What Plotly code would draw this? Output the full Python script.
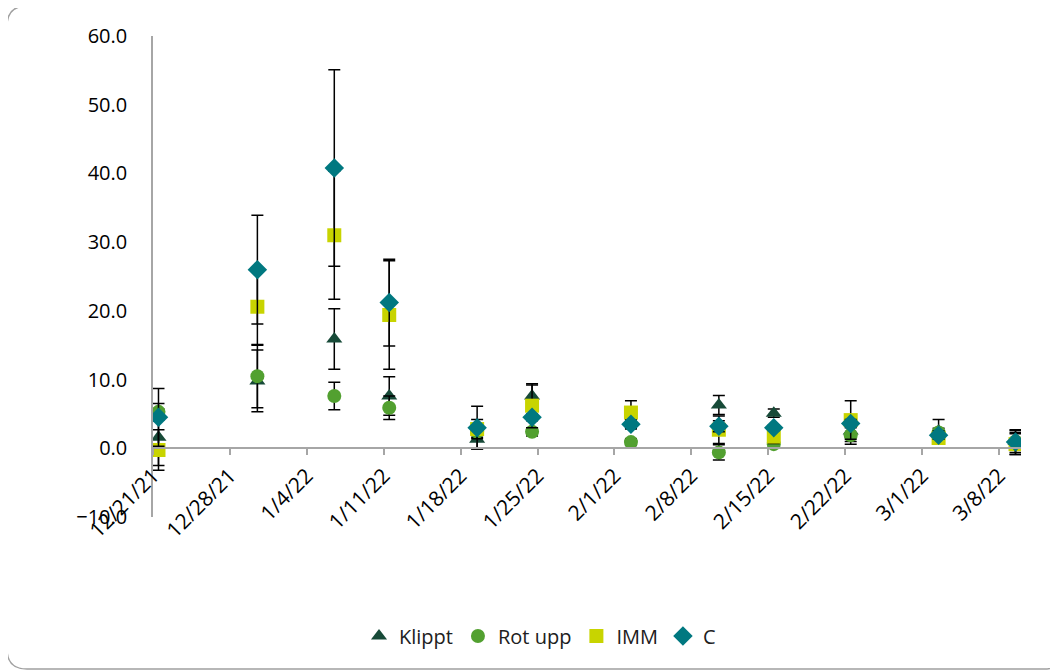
import pandas as pd
import plotly.graph_objects as go

# ---- data ----
dates = ["2021-12-21", "2021-12-30", "2022-01-06", "2022-01-11", "2022-01-19", "2022-01-24",
         "2022-02-02", "2022-02-10", "2022-02-15", "2022-02-22", "2022-03-02", "2022-03-09"]

klippt = [1.6, 9.8, 15.9, 7.6, 1.3, 7.6, 3.8, 6.3, 5.1, 2.5, 2.5, 1.0]
klippt_err = [4.1, 4.5, 4.4, 2.8, 1.4, 1.6, 1.0, 1.4, 0.6, 1.5, 1.7, 1.3]

rot_upp = [5.3, 10.5, 7.6, 5.9, 2.4, 2.4, 0.9, -0.6, 0.6, 1.9, 2.3, 1.0]
rot_upp_err = [1.2, 4.6, 2.0, 1.7, 0.8, 0.6, 0.5, 1.1, 0.4, 1.3, 0.6, 1.6]

imm = [-0.25, 20.6, 31.0, 19.4, 2.8, 6.2, 5.2, 2.7, 1.7, 4.1, 1.5, 0.6]
imm_err = [2.95, 5.6, 9.3, 7.9, 1.4, 3.2, 1.7, 2.0, 1.0, 2.8, 0.6, 1.5]

c_vals = [4.5, 26.0, 40.8, 21.2, 3.0, 4.5, 3.5, 3.2, 3.0, 3.6, 1.9, 0.9]
c_err = [4.2, 7.9, 14.3, 6.3, 3.1, 0.5, 0.6, 0.8, 0.4, 0.6, 0.6, 1.8]

tick_dates = ["2021-12-21", "2021-12-28", "2022-01-04", "2022-01-11", "2022-01-18", "2022-01-25",
              "2022-02-01", "2022-02-08", "2022-02-15", "2022-02-22", "2022-03-01", "2022-03-08"]
tick_labels = ["12/21/21", "12/28/21", "1/4/22", "1/11/22", "1/18/22", "1/25/22",
               "2/1/22", "2/8/22", "2/15/22", "2/22/22", "3/1/22", "3/8/22"]

series = [
    ("Klippt", klippt, klippt_err, "triangle-up", "#174A38"),
    ("Rot upp", rot_upp, rot_upp_err, "circle", "#52A030"),
    ("IMM", imm, imm_err, "square", "#C8D400"),
    ("C", c_vals, c_err, "diamond", "#007880"),
]

# points sit in the middle of their day (date-axis slot)
x_pts = pd.to_datetime(dates) + pd.Timedelta(hours=12)

FONT = "Open Sans"
OFF = 8  # page body margin offset
W, H = 1058 - OFF, 671 - OFF
ML = 153 - OFF
MR = W - (1021 - OFF)
MT = 36 - OFF
MB = H - (517 - OFF)

fig = go.Figure()
for name, vals, err, sym, col in series:
    fig.add_trace(go.Scatter(
        x=x_pts, y=vals, mode="markers", name=name,
        marker=dict(symbol=sym, color=col, size=14 if sym != "diamond" else 15,
                    line=dict(width=0)),
        error_y=dict(type="data", array=err, visible=True, color="black",
                     thickness=1.5, width=6),
    ))

# chart border (rounded rectangle) in paper coordinates
pw, ph = W - ML - MR, H - MT - MB
def px(x):
    return (x - OFF - ML) / pw
def py(y):
    return (H - MB - (y - OFF)) / ph

L, T, R, B, r = 7, 6, 1064, 669, 20
path = (f"M {px(L)},{py(T + r)} Q {px(L)},{py(T)} {px(L + r)},{py(T)} "
        f"L {px(R - r)},{py(T)} Q {px(R)},{py(T)} {px(R)},{py(T + r)} "
        f"L {px(R)},{py(B - r)} Q {px(R)},{py(B)} {px(R - r)},{py(B)} "
        f"L {px(L + r)},{py(B)} Q {px(L)},{py(B)} {px(L)},{py(B - r)} Z")
fig.add_shape(type="path", path=path, xref="paper", yref="paper",
              line=dict(color="#A0A0A0", width=1.5), layer="below")

fig.update_layout(
    width=W, height=H,
    margin=dict(l=ML, r=MR, t=MT, b=MB, pad=0),
    paper_bgcolor="white", plot_bgcolor="white",
    font=dict(family=FONT, size=20, color="black"),
    showlegend=True,
    legend=dict(orientation="h", x=px(540), y=py(636), xanchor="center", yanchor="middle",
                font=dict(size=20, color="#202020"), itemwidth=30, tracegroupgap=0,
                bgcolor="rgba(0,0,0,0)"),
    xaxis=dict(
        type="date",
        range=["2021-12-21", "2022-03-10"],
        tickvals=tick_dates, ticktext=tick_labels, tickangle=-45,
        showgrid=False, zeroline=False,
        showline=True, linecolor="#A6A6A6", linewidth=1.5,
        ticks="outside", ticklen=6, tickcolor="#A6A6A6", tickwidth=1.5,
        anchor="free", position=1 / 7,
        tickfont=dict(size=21, family=FONT),
    ),
    yaxis=dict(
        range=[-10, 60], dtick=10, tick0=0, tickformat=".1f",
        domain=[0, 1],
        showgrid=False, zeroline=False,
        showline=True, linecolor="#A6A6A6", linewidth=1.5,
        ticks="", ticklabelstandoff=20,
        tickfont=dict(size=20, family=FONT),
    ),
)

fig.write_html("out.html")
